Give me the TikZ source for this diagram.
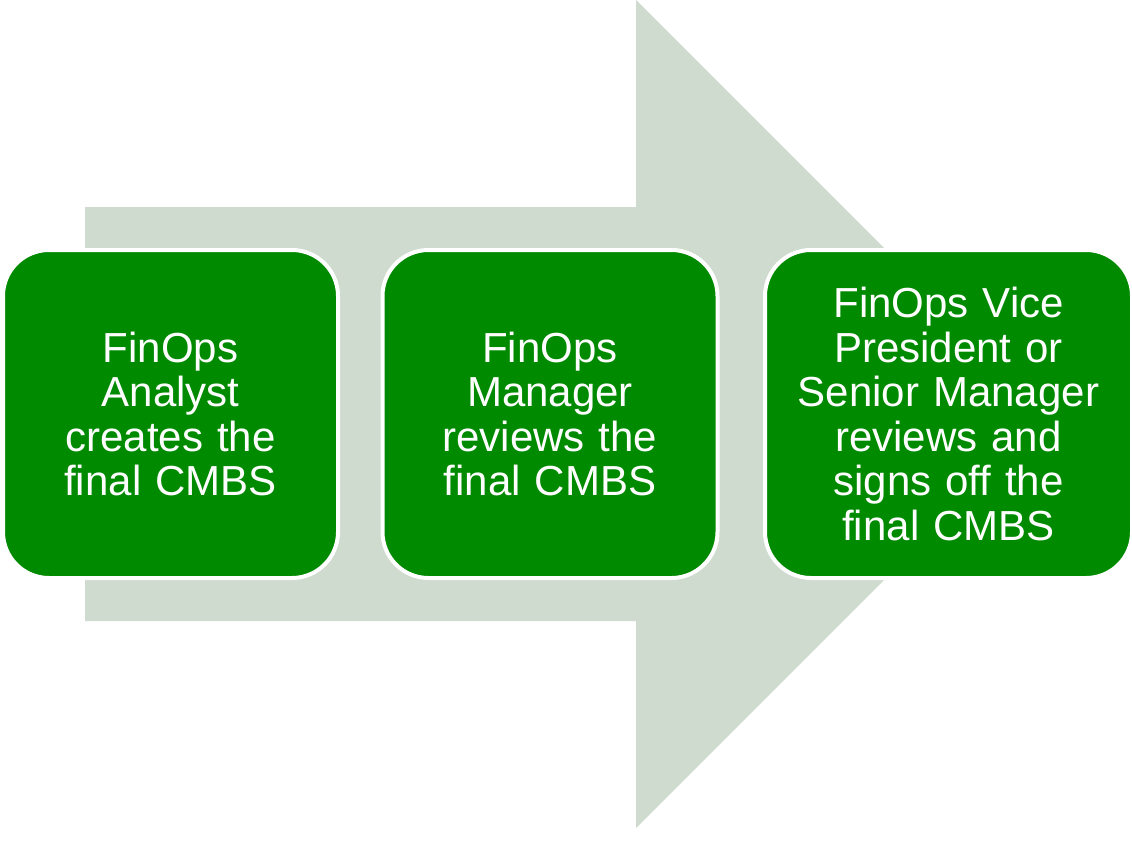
\documentclass[tikz,border=0pt]{standalone}
\usepackage{fontspec}
\setmainfont{Liberation Sans}
\definecolor{arrowgray}{RGB}{206,219,206}
\definecolor{boxgreen}{RGB}{0,138,0}
\begin{document}
\begin{tikzpicture}[x=1pt,y=-1pt,
  stepbox/.style={draw=white, line width=4pt, fill=boxgreen, rounded corners=46pt,
    minimum height=328pt, inner sep=0pt, align=center, text=white,
    font=\fontsize{42}{44.5}\selectfont}]
\useasboundingbox (0,0) rectangle (1132,843);
\fill[arrowgray] (85,207) -- (636,207) -- (636,0) -- (1050,414) -- (636,828) -- (636,621) -- (85,621) -- cycle;
\node[stepbox, minimum width=335pt, text width=320pt] (a) at (170.5,414) {FinOps\\Analyst\\creates the\\final CMBS};
\node[stepbox, minimum width=335pt, text width=320pt] (b) at (550,414) {FinOps\\Manager\\reviews the\\final CMBS};
\node[stepbox, minimum width=367pt, text width=340pt] (c) at (948.5,414) {FinOps Vice\\President or\\Senior Manager\\reviews and\\signs off the\\final CMBS};
\end{tikzpicture}
\end{document}
